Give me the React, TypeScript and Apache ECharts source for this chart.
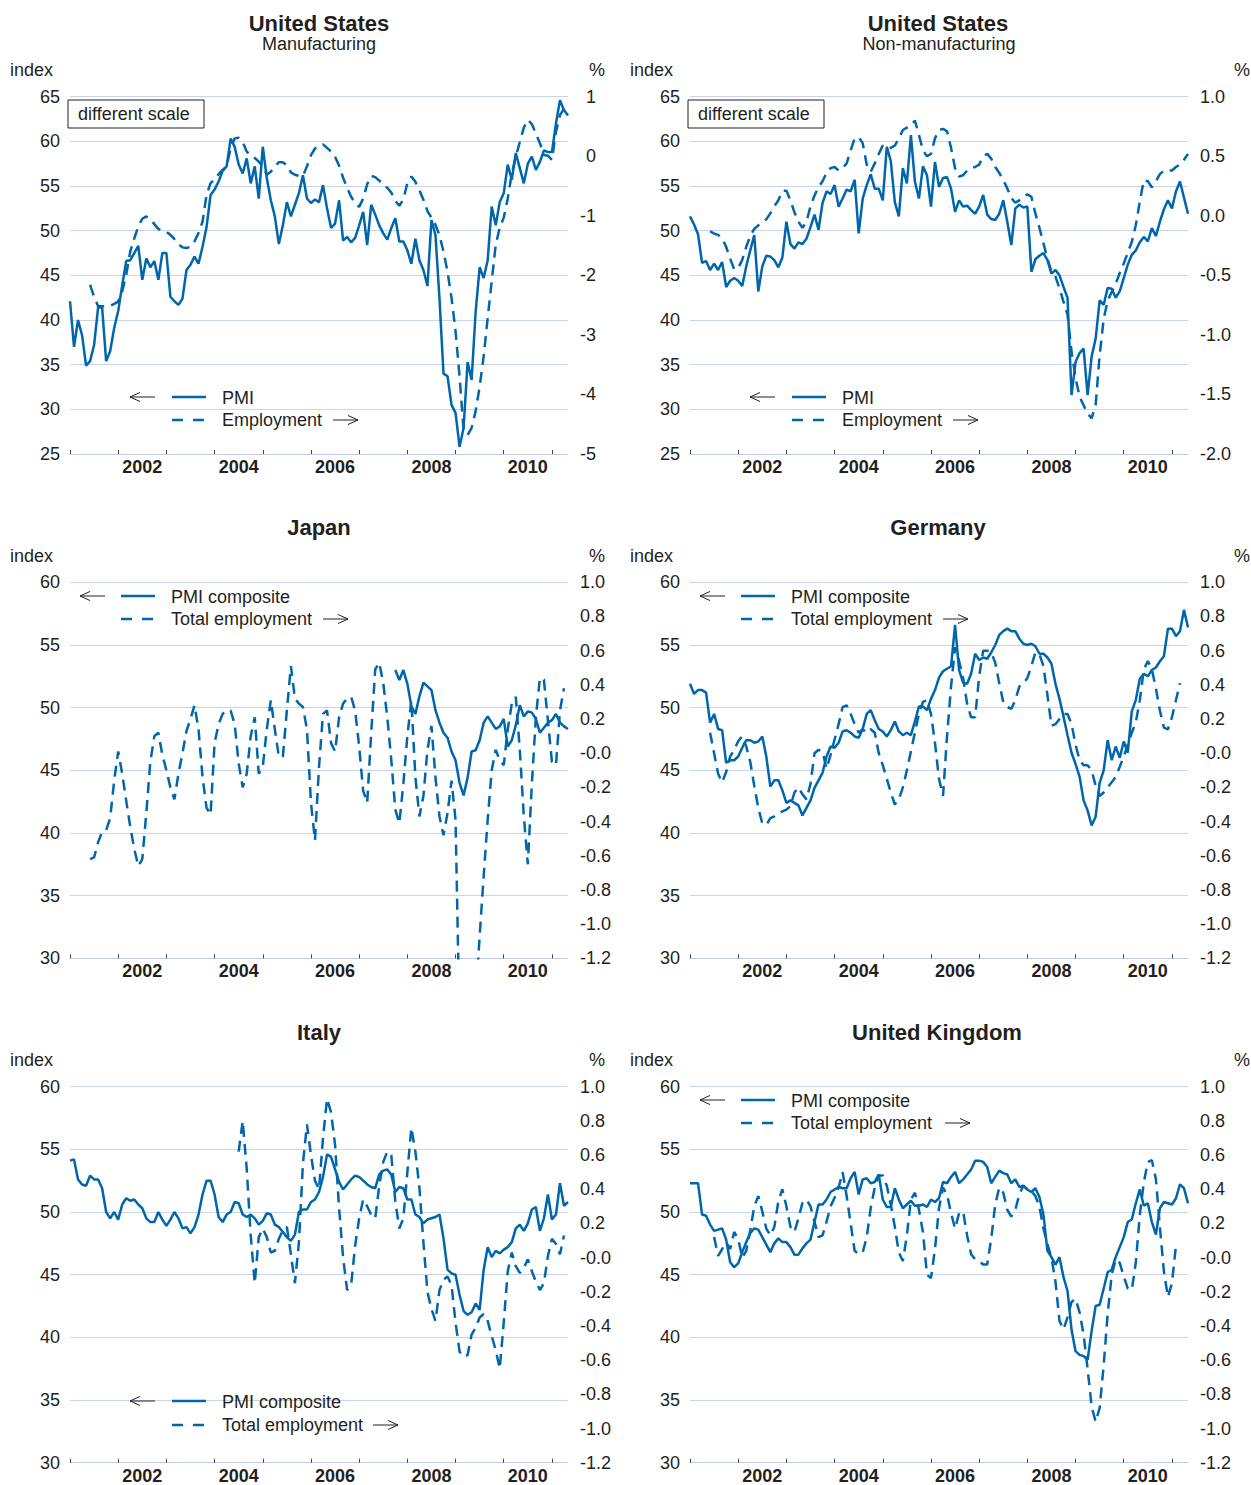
import React, { useEffect, useRef } from "react";
import * as echarts from "echarts";

const FONT = '"Liberation Sans", Arial, Helvetica, sans-serif';
const BLUE = "#0066AB";
const GRID_C = "#C9D4EC";
const INK = "#231F20";

// Monthly categories: Jan 2001 .. May 2011
const N_MONTHS = 125;
const MONTHS: string[] = [];
for (let i = 0; i < N_MONTHS; i++) {
  const y = 2001 + Math.floor(i / 12);
  const m = (i % 12) + 1;
  MONTHS.push(`${y}-${m < 10 ? "0" + m : m}`);
}
const YEAR_LABELS = ["2002", "2004", "2006", "2008", "2010"];

// ---------- United States, manufacturing ----------
const US_MFG_PMI_START = 0;
const US_MFG_PMI = [
  42.1, 37.0, 40.0, 38.3, 34.9, 35.4, 37.2, 41.4, 41.4, 35.4,
  36.5, 39.1, 41.0, 43.9, 46.6, 46.7, 47.5, 48.3, 44.5, 46.9,
  45.9, 46.6, 44.5, 47.5, 47.5, 42.6, 42.1, 41.7, 42.4, 45.6,
  46.2, 47.1, 46.3, 48.2, 50.4, 54.0, 54.6, 55.5, 56.7, 57.2,
  60.3, 59.4, 57.4, 56.4, 58.1, 55.3, 57.2, 53.6, 59.4, 55.9,
  53.4, 51.6, 48.5, 50.6, 53.2, 51.6, 52.9, 54.2, 56.2, 53.6,
  53.1, 53.5, 53.2, 55.1, 52.5, 50.3, 50.8, 53.4, 48.9, 49.3,
  48.7, 49.2, 50.6, 52.1, 48.4, 52.9, 51.8, 50.6, 49.7, 49.0,
  50.3, 51.4, 48.8, 48.8, 47.8, 46.3, 49.1, 46.7, 45.6, 43.8,
  51.2, 49.5, 42.4, 34.0, 33.7, 30.5, 29.6, 25.8, 27.9, 35.3,
  33.3, 40.9, 45.9, 44.7, 46.7, 52.7, 50.6, 53.2, 54.2, 57.4,
  55.7, 58.7, 57.0, 55.3, 57.5, 58.3, 56.8, 57.7, 59.0, 58.8,
  58.8, 62.0, 64.6, 63.5, 62.9,
];
const US_MFG_EMP_START = 5;
const US_MFG_EMP = [
  -2.16, -2.36, -2.52, -2.52, -2.52,
  -2.51, -2.48, -2.44, -2.27, -1.99, -1.6, -1.38, -1.18, -1.05, -1.01,
  -1.06, -1.14, -1.22, -1.25, -1.27, -1.32, -1.39, -1.48, -1.53, -1.54,
  -1.52, -1.43, -1.29, -1.1, -0.65, -0.45, -0.4, -0.3, -0.23, -0.17,
  0.13, 0.3, 0.31, 0.24, 0.08, 0.01, -0.03, -0.09, -0.17, -0.31,
  -0.26, -0.17, -0.1, -0.1, -0.15, -0.27, -0.31, -0.33, -0.33, -0.17,
  0.02, 0.13, 0.18, 0.2, 0.14, 0.08, -0.01, -0.16, -0.36, -0.53,
  -0.68, -0.79, -0.85, -0.71, -0.47, -0.33, -0.35, -0.41, -0.47, -0.53,
  -0.61, -0.75, -0.83, -0.73, -0.45, -0.34, -0.43, -0.57, -0.73, -0.92,
  -1.03, -1.15, -1.33, -1.6, -1.94, -2.38, -2.94, -3.7, -4.6, -4.68,
  -4.56, -4.28, -3.87, -3.36, -2.72, -2.1, -1.49, -1.2, -1.03, -0.71,
  -0.29, -0.01, 0.24, 0.48, 0.61, 0.54, 0.38, 0.22, 0.02, 0.01,
  -0.06, 0.41, 0.69, 0.8,
];

// ---------- United States, non-manufacturing ----------
const US_NON_PMI_START = 0;
const US_NON_PMI = [
  51.6, 50.7, 49.6, 46.4, 46.6, 45.6, 46.3, 45.6, 46.5, 43.7,
  44.4, 44.7, 44.4, 43.8, 46.0, 47.8, 49.5, 43.2, 46.0, 47.2,
  47.1, 46.7, 45.9, 47.0, 51.0, 48.5, 48.0, 48.7, 48.5, 49.1,
  50.4, 51.8, 50.1, 53.1, 54.4, 54.1, 55.1, 52.7, 53.6, 54.6,
  54.4, 55.7, 49.7, 53.6, 55.1, 56.3, 54.7, 54.7, 53.4, 59.4,
  57.8, 53.2, 51.6, 57.0, 55.3, 60.7, 55.5, 53.6, 57.2, 56.2,
  52.7, 57.7, 54.9, 55.9, 56.0, 54.7, 52.1, 53.4, 52.7, 52.8,
  52.3, 51.9, 52.7, 54.0, 51.8, 51.3, 51.2, 51.9, 53.4, 51.0,
  48.4, 52.5, 52.9, 52.6, 52.7, 45.4, 46.8, 47.2, 47.5, 46.7,
  45.2, 45.6, 45.0, 43.7, 42.5, 31.6, 35.3, 36.3, 36.8, 31.6,
  35.9, 37.9, 42.2, 41.7, 43.6, 43.5, 42.5, 43.2, 44.7, 46.2,
  47.3, 47.8, 48.7, 49.3, 48.8, 50.3, 49.4, 51.0, 52.4, 53.4,
  52.5, 54.4, 55.5, 53.7, 51.9,
];
const US_NON_EMP_START = 5;
const US_NON_EMP = [
  -0.13, -0.15, -0.16, -0.19, -0.26,
  -0.36, -0.45, -0.44, -0.37, -0.26, -0.17, -0.11, -0.08, -0.05, -0.03,
  0.02, 0.08, 0.13, 0.21, 0.21, 0.13, 0.03, -0.05, -0.1, -0.05,
  0.08, 0.17, 0.24, 0.29, 0.36, 0.4, 0.41, 0.38, 0.4, 0.44,
  0.55, 0.65, 0.66, 0.61, 0.43, 0.37, 0.44, 0.52, 0.59, 0.57,
  0.57, 0.59, 0.65, 0.72, 0.74, 0.76, 0.8, 0.68, 0.55, 0.5,
  0.52, 0.65, 0.72, 0.73, 0.71, 0.57, 0.4, 0.33, 0.34, 0.38,
  0.4, 0.41, 0.43, 0.5, 0.52, 0.48, 0.41, 0.36, 0.3, 0.23,
  0.15, 0.11, 0.13, 0.16, 0.18, 0.16, 0.02, -0.1, -0.23, -0.36,
  -0.47, -0.51, -0.61, -0.72, -0.83, -1.14, -1.36, -1.52, -1.59, -1.66,
  -1.7, -1.59, -1.17, -0.87, -0.71, -0.64, -0.57, -0.48, -0.4, -0.31,
  -0.22, -0.08, 0.12, 0.3, 0.29, 0.24, 0.29, 0.35, 0.38, 0.38,
  0.38, 0.41, 0.43, 0.47, 0.52,
];

// ---------- Japan ----------
const JP_PMI_START = 81;
const JP_PMI = [
  53.0, 52.2, 53.0, 51.9, 50.1, 49.5, 50.9, 52.0, 51.7,
  51.4, 49.8, 48.8, 48.0, 47.6, 46.5, 45.8, 44.0, 43.0, 44.4,
  46.5, 46.6, 47.4, 48.8, 49.3, 48.8, 48.3, 48.5, 49.1, 46.9,
  47.4, 48.6, 50.2, 49.3, 49.7, 49.6, 49.1, 48.0, 48.4, 48.8,
  49.0, 49.5, 48.8, 48.5, 48.3,
];
const JP_EMP_START = 5;
const JP_EMP = [
  -0.62, -0.61, -0.52, -0.46, -0.45,
  -0.38, -0.16, 0.01, -0.12, -0.28, -0.43, -0.56, -0.66, -0.62, -0.35,
  -0.05, 0.1, 0.12, -0.01, -0.1, -0.2, -0.27, -0.12, 0.0, 0.13,
  0.2, 0.28, 0.14, -0.14, -0.32, -0.36, 0.06, 0.17, 0.23, 0.25,
  0.25, 0.17, -0.06, -0.2, -0.12, 0.1, 0.21, -0.12, -0.08, 0.14,
  0.31, 0.14, -0.02, -0.02, 0.25, 0.51, 0.32, 0.29, 0.27, 0.14,
  -0.29, -0.51, -0.08, 0.23, 0.25, 0.06, 0.01, 0.21, 0.29, 0.32,
  0.33, 0.25, 0.04, -0.22, -0.29, 0.12, 0.49, 0.53, 0.41, 0.21,
  -0.04, -0.33, -0.41, -0.18, 0.1, 0.31, -0.14, -0.37, -0.25, 0.02,
  0.16, -0.14, -0.37, -0.48, -0.35, -0.16, -0.39, -1.6, -1.9, -2.0,
  -1.8, -1.45, -1.07, -0.72, -0.39, -0.1, 0.02, -0.04, -0.07, 0.14,
  0.29, 0.33, 0.02, -0.37, -0.65, -0.18, 0.21, 0.44, 0.43, 0.19,
  -0.05, -0.07, 0.25, 0.38,
];

// ---------- Germany ----------
const DE_PMI_START = 0;
const DE_PMI = [
  51.9, 51.1, 51.4, 51.4, 51.2, 48.8, 49.5, 48.3, 48.2, 45.6,
  45.8, 45.8, 46.1, 46.8, 47.4, 47.4, 47.2, 47.3, 47.7, 46.1,
  43.7, 44.2, 44.2, 43.4, 42.4, 42.6, 42.4, 42.2, 41.4, 42.0,
  42.6, 43.6, 44.2, 44.8, 46.1, 46.9, 46.8, 47.2, 48.1, 48.2,
  48.0, 47.7, 47.6, 48.3, 49.5, 49.8, 49.0, 48.3, 48.1, 47.7,
  48.2, 48.9, 48.1, 47.8, 48.0, 47.8, 48.9, 50.1, 50.1, 49.8,
  50.7, 51.4, 52.4, 52.9, 53.1, 53.3, 56.6, 53.0, 52.0, 51.9,
  52.7, 54.3, 53.8, 54.0, 53.9, 54.4, 55.0, 55.8, 56.1, 56.3,
  56.1, 56.1, 55.5, 55.1, 55.0, 55.1, 54.9, 54.3, 54.3, 54.0,
  53.5, 51.9, 50.7, 49.3, 47.8, 46.4, 45.5, 44.5, 42.6, 41.8,
  40.6, 41.3, 44.0, 45.0, 47.4, 45.8, 46.9, 46.0, 47.3, 46.4,
  49.7, 50.6, 52.3, 52.7, 52.5, 53.0, 53.2, 53.7, 54.1, 56.3,
  56.3, 55.7, 56.1, 57.8, 56.4,
];
const DE_EMP_START = 5;
const DE_EMP = [
  0.12, 0.0, -0.12, -0.17, -0.11,
  -0.02, 0.02, 0.07, 0.1, 0.04, -0.05, -0.19, -0.32, -0.41, -0.42,
  -0.38, -0.37, -0.35, -0.34, -0.33, -0.31, -0.23, -0.2, -0.24, -0.27,
  -0.18, 0.0, 0.02, 0.01, -0.09, -0.01, 0.08, 0.17, 0.27, 0.28,
  0.23, 0.17, 0.12, 0.14, 0.12, 0.14, 0.12, 0.0, -0.07, -0.15,
  -0.23, -0.3, -0.27, -0.2, -0.1, 0.01, 0.12, 0.23, 0.3, 0.31,
  0.23, 0.06, -0.15, -0.25, 0.1, 0.39, 0.62, 0.54, 0.44, 0.29,
  0.21, 0.21, 0.45, 0.6, 0.6, 0.59, 0.53, 0.41, 0.3, 0.27,
  0.26, 0.31, 0.39, 0.41, 0.44, 0.51, 0.59, 0.58, 0.51, 0.34,
  0.16, 0.17, 0.2, 0.23, 0.23, 0.17, 0.05, -0.04, -0.07, -0.07,
  -0.1, -0.19, -0.25, -0.23, -0.2, -0.17, -0.14, -0.08, -0.02, 0.05,
  0.12, 0.18, 0.31, 0.49, 0.54, 0.49, 0.38, 0.25, 0.15, 0.14,
  0.21, 0.31, 0.41,
];

// ---------- Italy ----------
const IT_PMI_START = 0;
const IT_PMI = [
  54.1, 54.2, 52.6, 52.2, 52.1, 52.9, 52.6, 52.6, 51.9, 50.0,
  49.5, 50.0, 49.4, 50.6, 51.1, 50.9, 51.0, 50.6, 50.3, 49.5,
  49.2, 49.2, 50.0, 49.4, 48.9, 49.4, 50.0, 49.5, 48.7, 48.8,
  48.3, 48.8, 49.8, 51.4, 52.5, 52.5, 51.4, 49.6, 49.2, 49.8,
  50.0, 50.8, 50.7, 49.8, 49.6, 49.8, 49.5, 49.0, 49.3, 49.9,
  49.8, 49.0, 48.8, 48.4, 48.0, 47.7, 48.2, 50.0, 50.2, 50.2,
  50.8, 51.0, 51.6, 52.8, 54.6, 54.4, 53.4, 52.4, 51.8, 52.2,
  52.6, 52.9, 52.8, 52.5, 52.2, 52.0, 51.9, 53.0, 53.3, 53.4,
  53.0, 51.6, 52.0, 51.9, 51.0, 51.0, 49.8, 49.6, 49.1, 49.4,
  49.5, 49.6, 49.8, 47.9, 45.4, 45.1, 45.0, 43.4, 42.1, 41.8,
  42.0, 42.7, 42.2, 45.4, 47.2, 46.4, 46.9, 46.7, 47.0, 47.2,
  47.6, 48.7, 49.0, 48.5, 49.1, 50.2, 50.4, 48.5, 49.5, 51.4,
  49.4, 49.8, 52.3, 50.5, 50.8,
];
const IT_EMP_START = 42;
const IT_EMP = [
  0.62, 0.8, 0.52, 0.13, -0.15, 0.12, 0.17, 0.12,
  0.03, 0.04, 0.11, 0.16, 0.18, 0.02, -0.15, 0.09, 0.55, 0.78,
  0.6, 0.45, 0.4, 0.7, 0.93, 0.85, 0.66, 0.29, 0.0, -0.19,
  -0.16, 0.07, 0.23, 0.34, 0.3, 0.25, 0.23, 0.42, 0.56, 0.62,
  0.6, 0.33, 0.17, 0.23, 0.5, 0.76, 0.62, 0.41, 0.09, -0.2,
  -0.3, -0.37, -0.19, -0.13, -0.11, -0.16, -0.38, -0.55, -0.58, -0.57,
  -0.45, -0.41, -0.35, -0.33, -0.37, -0.46, -0.54, -0.65, -0.38, -0.08,
  0.03, -0.05, -0.09, -0.06, -0.01, -0.08, -0.14, -0.19, -0.15, 0.01,
  0.11, 0.08, 0.02, 0.13,
];

// ---------- United Kingdom ----------
const UK_PMI_START = 0;
const UK_PMI = [
  52.3, 52.3, 52.3, 49.8, 49.7, 49.0, 48.5, 48.6, 48.7, 47.8,
  46.0, 45.6, 45.9, 46.8, 47.6, 48.3, 48.7, 48.6, 48.0, 47.4,
  46.8, 47.5, 47.9, 47.6, 47.6, 47.2, 46.6, 46.6, 47.1, 47.5,
  47.8, 49.2, 50.6, 50.6, 51.0, 51.6, 51.8, 52.0, 51.9, 51.9,
  52.7, 53.2, 51.4, 52.6, 52.7, 52.3, 52.4, 53.0, 51.0, 50.4,
  50.4, 51.9, 51.0, 50.3, 50.6, 50.9, 50.5, 50.5, 50.6, 50.4,
  51.0, 50.8, 51.1, 52.4, 52.3, 52.8, 53.2, 52.3, 52.6, 53.0,
  53.4, 54.1, 54.1, 54.0, 53.6, 52.3, 52.8, 53.3, 53.1, 53.0,
  52.3, 52.6, 52.0, 52.1, 51.8, 51.6, 51.9, 51.2, 49.8, 46.9,
  46.4, 45.8, 46.4, 44.8, 43.7, 40.6, 38.9, 38.6, 38.5, 38.2,
  40.5, 42.5, 42.6, 43.9, 45.2, 45.4, 46.4, 47.2, 48.0, 49.2,
  49.4, 50.7, 51.8, 50.5, 50.7, 49.2, 48.2, 50.3, 50.8, 50.7,
  50.6, 51.1, 52.2, 51.9, 50.7,
];
const UK_EMP_START = 6;
const UK_EMP = [
  0.12, 0.01, 0.05, 0.09,
  0.05, 0.15, 0.11, 0.0, 0.04, 0.16, 0.3, 0.36, 0.27, 0.17,
  0.13, 0.18, 0.33, 0.4, 0.3, 0.18, 0.15, 0.23, 0.32, 0.34,
  0.3, 0.21, 0.12, 0.13, 0.21, 0.3, 0.35, 0.41, 0.5, 0.36,
  0.2, 0.04, 0.02, 0.03, 0.12, 0.29, 0.41, 0.48, 0.48, 0.42,
  0.31, 0.18, 0.03, -0.02, 0.13, 0.34, 0.38, 0.28, 0.15, -0.1,
  -0.12, 0.05, 0.29, 0.41, 0.37, 0.26, 0.17, 0.26, 0.27, 0.13,
  0.02, -0.01, -0.02, -0.04, -0.04, 0.11, 0.31, 0.41, 0.38, 0.28,
  0.24, 0.28, 0.37, 0.42, 0.4, 0.39, 0.36, 0.3, 0.17, 0.08,
  0.0, -0.14, -0.37, -0.42, -0.35, -0.26, -0.24, -0.32, -0.45, -0.65,
  -0.87, -0.96, -0.88, -0.63, -0.33, -0.1, -0.01, -0.03, -0.11, -0.18,
  -0.19, -0.03, 0.25, 0.44, 0.56, 0.57, 0.46, 0.18, -0.08, -0.23,
  -0.15, 0.07,
];

function pad(start: number, arr: number[]): (number | null)[] {
  const out: (number | null)[] = [];
  for (let i = 0; i < start; i++) out.push(null);
  return out.concat(arr);
}

type Panel = {
  title: string;
  subtitle?: string;
  cx: number;
  left: number;
  top: number;
  height: number;
  yL: [number, number, number];
  yR: [number, number, number];
  rFmt: (v: number) => string;
  rAlign: "left" | "right";
  rMargin: number;
  pmi: (number | null)[];
  emp: (number | null)[];
  pmiName: string;
  empName: string;
  legend: { ax: number; sx: number; tx: number; y1: number; y2: number; rx: number };
  unitsY: number;
  pctX: number;
  box?: boolean;
};

const fmtInt = (v: number) => String(Math.round(v));
const fmtOne = (v: number) => (Math.abs(v) < 1e-9 ? "0.0" : v.toFixed(1));
const fmtNegZero = (v: number) => (Math.abs(v) < 1e-9 ? "-0.0" : v.toFixed(1));

const PANELS: Panel[] = [
  {
    title: "United States", subtitle: "Manufacturing", cx: 319,
    left: 70, top: 96.7, height: 357.3, yL: [25, 65, 5], yR: [-5, 1, 1],
    rFmt: fmtInt, rAlign: "right", rMargin: 28,
    pmi: pad(US_MFG_PMI_START, US_MFG_PMI), emp: pad(US_MFG_EMP_START, US_MFG_EMP),
    pmiName: "PMI", empName: "Employment",
    legend: { ax: 130, sx: 172, tx: 222, y1: 397, y2: 420, rx: 333 }, unitsY: 70, pctX: 597, box: true,
  },
  {
    title: "United States", subtitle: "Non-manufacturing", cx: 939,
    left: 690, top: 96.7, height: 357.3, yL: [25, 65, 5], yR: [-2, 1, 0.5],
    rFmt: fmtOne, rAlign: "left", rMargin: 12,
    pmi: pad(US_NON_PMI_START, US_NON_PMI), emp: pad(US_NON_EMP_START, US_NON_EMP),
    pmiName: "PMI", empName: "Employment",
    legend: { ax: 750, sx: 792, tx: 842, y1: 397, y2: 420, rx: 953 }, unitsY: 70, pctX: 1242, box: true,
  },
  {
    title: "Japan", cx: 319,
    left: 70, top: 582.3, height: 376, yL: [30, 60, 5], yR: [-1.2, 1, 0.2],
    rFmt: fmtNegZero, rAlign: "left", rMargin: 12,
    pmi: pad(JP_PMI_START, JP_PMI), emp: pad(JP_EMP_START, JP_EMP),
    pmiName: "PMI composite", empName: "Total employment",
    legend: { ax: 80, sx: 121, tx: 171, y1: 596, y2: 619, rx: 323 }, unitsY: 556, pctX: 597,
  },
  {
    title: "Germany", cx: 938,
    left: 690, top: 582.3, height: 376, yL: [30, 60, 5], yR: [-1.2, 1, 0.2],
    rFmt: fmtNegZero, rAlign: "left", rMargin: 12,
    pmi: pad(DE_PMI_START, DE_PMI), emp: pad(DE_EMP_START, DE_EMP),
    pmiName: "PMI composite", empName: "Total employment",
    legend: { ax: 700, sx: 741, tx: 791, y1: 596, y2: 619, rx: 943 }, unitsY: 556, pctX: 1242,
  },
  {
    title: "Italy", cx: 319,
    left: 70, top: 1086.7, height: 376, yL: [30, 60, 5], yR: [-1.2, 1, 0.2],
    rFmt: fmtNegZero, rAlign: "left", rMargin: 12,
    pmi: pad(IT_PMI_START, IT_PMI), emp: pad(IT_EMP_START, IT_EMP),
    pmiName: "PMI composite", empName: "Total employment",
    legend: { ax: 130, sx: 172, tx: 222, y1: 1401, y2: 1425, rx: 373 }, unitsY: 1060, pctX: 597,
  },
  {
    title: "United Kingdom", cx: 937,
    left: 690, top: 1086.7, height: 376, yL: [30, 60, 5], yR: [-1.2, 1, 0.2],
    rFmt: fmtNegZero, rAlign: "left", rMargin: 12,
    pmi: pad(UK_PMI_START, UK_PMI), emp: pad(UK_EMP_START, UK_EMP),
    pmiName: "PMI composite", empName: "Total employment",
    legend: { ax: 700, sx: 741, tx: 791, y1: 1100, y2: 1123, rx: 945 }, unitsY: 1060, pctX: 1242,
  },
];

const PLOT_W = 498;
const DASH = [11, 7];

function text(x: number, y: number, s: string, font: string, align = "left") {
  return {
    type: "text", x, y, z: 100,
    style: { text: s, font, fill: INK, align, verticalAlign: "middle" },
  };
}
function seg(x1: number, y1: number, x2: number, y2: number, stroke: string, lineWidth: number, lineDash?: number[]) {
  return {
    type: "line", z: 100,
    shape: { x1, y1, x2, y2 },
    style: { stroke, lineWidth, lineDash: lineDash || null },
  };
}
function arrowLeft(x: number, y: number) {
  return [
    seg(x, y, x + 25, y, INK, 1),
    { type: "polyline", z: 100, shape: { points: [[x + 10, y - 4.5], [x, y], [x + 10, y + 4.5]] }, style: { stroke: INK, lineWidth: 1, fill: null } },
  ];
}
function arrowRight(x: number, y: number) {
  return [
    seg(x, y, x + 25, y, INK, 1),
    { type: "polyline", z: 100, shape: { points: [[x + 15, y - 4.5], [x + 25, y], [x + 15, y + 4.5]] }, style: { stroke: INK, lineWidth: 1, fill: null } },
  ];
}

function buildOption() {
  const grid: any[] = [];
  const xAxis: any[] = [];
  const yAxis: any[] = [];
  const series: any[] = [];
  const elements: any[] = [];

  PANELS.forEach((p, i) => {
    grid.push({ left: p.left, top: p.top, width: PLOT_W, height: p.height });
    xAxis.push({
      type: "category", gridIndex: i, data: MONTHS, boundaryGap: false, position: "bottom",
      axisLine: { show: true, onZero: false, lineStyle: { color: "#BFCBE6", width: 1 } },
      axisTick: { show: true, inside: true, length: 4, interval: (idx: number) => idx % 12 === 0, lineStyle: { color: "#444", width: 1 } },
      axisLabel: {
        interval: (_idx: number, v: string) => v.endsWith("-07") && YEAR_LABELS.includes(v.slice(0, 4)),
        formatter: (v: string) => v.slice(0, 4),
        fontFamily: FONT, fontSize: 18, fontWeight: "bold", color: INK, margin: 4,
      },
      splitLine: { show: false },
    });
    yAxis.push({
      type: "value", gridIndex: i, position: "left",
      min: p.yL[0], max: p.yL[1], interval: p.yL[2],
      axisLine: { show: false, onZero: false }, axisTick: { show: false },
      splitLine: { show: true, lineStyle: { color: GRID_C, width: 1 } },
      axisLabel: { fontFamily: FONT, fontSize: 18, color: INK, margin: 10 },
    });
    yAxis.push({
      type: "value", gridIndex: i, position: "right",
      min: p.yR[0], max: p.yR[1], interval: p.yR[2],
      axisLine: { show: false, onZero: false }, axisTick: { show: false },
      splitLine: { show: false },
      axisLabel: { fontFamily: FONT, fontSize: 18, color: INK, margin: p.rMargin, align: p.rAlign, formatter: p.rFmt },
    });
    series.push({
      type: "line", name: p.pmiName, xAxisIndex: i, yAxisIndex: 2 * i,
      data: p.pmi, showSymbol: false, symbol: "none", clip: true, silent: true,
      lineStyle: { color: BLUE, width: 2.5, type: "solid" }, z: 3,
    });
    series.push({
      type: "line", name: p.empName, xAxisIndex: i, yAxisIndex: 2 * i + 1,
      data: p.emp, showSymbol: false, symbol: "none", clip: true, silent: true,
      lineStyle: { color: BLUE, width: 2.5, type: DASH }, z: 2,
    });

    // titles
    if (p.subtitle) {
      elements.push(text(p.cx - (p.cx > 600 ? 1 : 0), 23, p.title, `bold 22px ${FONT}`, "center"));
      elements.push(text(p.cx, 44, p.subtitle, `18px ${FONT}`, "center"));
    } else {
      elements.push(text(p.cx, p.top - 54.5, p.title, `bold 22px ${FONT}`, "center"));
    }
    // unit labels
    elements.push(text(p.left - 60, p.unitsY, "index", `18px ${FONT}`, "left"));
    elements.push(text(p.pctX, p.unitsY, "%", `18px ${FONT}`, "center"));
    // different scale box
    if (p.box) {
      elements.push({ type: "rect", z: 100, shape: { x: p.left - 2, y: 100, width: 136, height: 28 }, style: { stroke: INK, lineWidth: 1, fill: "#fff" } });
      elements.push(text(p.left + 8, 114, "different scale", `18px ${FONT}`, "left"));
    }
    // legend
    const L = p.legend;
    elements.push(...arrowLeft(L.ax, L.y1));
    elements.push(seg(L.sx, L.y1, L.sx + 34, L.y1, BLUE, 2.5));
    elements.push(text(L.tx, L.y1 + 1, p.pmiName, `18px ${FONT}`, "left"));
    elements.push(seg(L.sx, L.y2, L.sx + 34, L.y2, BLUE, 2.5, [11, 10]));
    elements.push(text(L.tx, L.y2, p.empName, `18px ${FONT}`, "left"));
    elements.push(...arrowRight(L.rx, L.y2));
  });

  return {
    animation: false,
    backgroundColor: "#fff",
    textStyle: { fontFamily: FONT },
    grid, xAxis, yAxis, series,
    graphic: { elements },
  };
}

export default function App() {
  const ref = useRef<HTMLDivElement>(null);
  useEffect(() => {
    if (!ref.current) return;
    const chart = echarts.init(ref.current, undefined, { renderer: "svg" });
    chart.setOption(buildOption() as any);
    return () => chart.dispose();
  }, []);
  return (
    <div
      ref={ref}
      style={{ position: "absolute", left: 0, top: 0, width: 1251, height: 1485, background: "#fff" }}
    />
  );
}
